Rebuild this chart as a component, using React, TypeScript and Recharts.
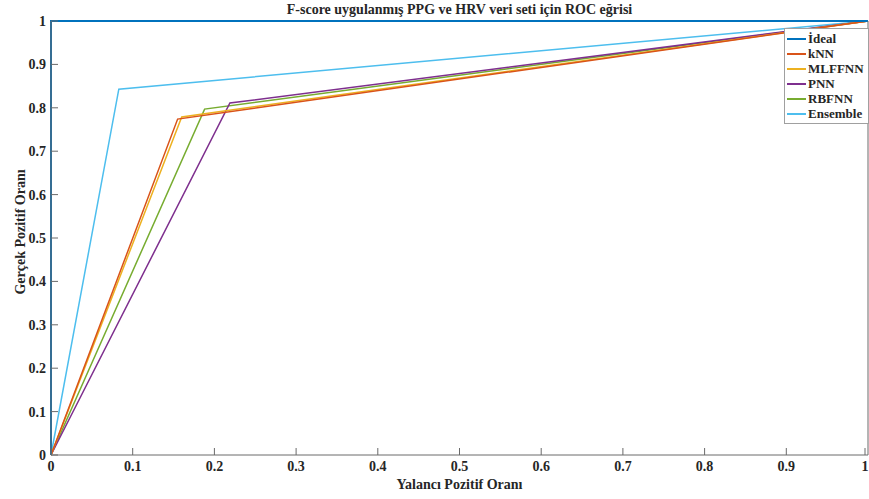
import React from "react";
import { LineChart, Line, XAxis, YAxis } from "recharts";

// ROC curve points (false positive rate, true positive rate)
const idealFpr = [0, 0, 1];
const idealTpr = [0, 1, 1];
const knnFpr = [0, 0.155, 1];
const knnTpr = [0, 0.774, 1];
const mlffnnFpr = [0, 0.16, 1];
const mlffnnTpr = [0, 0.779, 1];
const pnnFpr = [0, 0.219, 1];
const pnnTpr = [0, 0.811, 1];
const rbfnnFpr = [0, 0.188, 1];
const rbfnnTpr = [0, 0.797, 1];
const ensembleFpr = [0, 0.083, 1];
const ensembleTpr = [0, 0.843, 1];

const axisTicks = [0, 0.1, 0.2, 0.3, 0.4, 0.5, 0.6, 0.7, 0.8, 0.9, 1];

const FONT = "'Liberation Serif', 'Times New Roman', serif";
const INK = "#262626";
const AXIS = "#6a6a6a";

const toPoints = (xs: number[], ys: number[]) =>
  xs.map((x, i) => ({ x, y: ys[i] }));

const series = [
  { name: "İdeal", color: "#0072BD", width: 2, data: toPoints(idealFpr, idealTpr) },
  { name: "kNN", color: "#D95319", width: 1.5, data: toPoints(knnFpr, knnTpr) },
  { name: "MLFFNN", color: "#EDB120", width: 1.5, data: toPoints(mlffnnFpr, mlffnnTpr) },
  { name: "PNN", color: "#7E2F8E", width: 1.5, data: toPoints(pnnFpr, pnnTpr) },
  { name: "RBFNN", color: "#77AC30", width: 1.5, data: toPoints(rbfnnFpr, rbfnnTpr) },
  { name: "Ensemble", color: "#4DBEEE", width: 1.5, data: toPoints(ensembleFpr, ensembleTpr) },
];

const fmt = (v: number) => (v === 0 || v === 1 ? String(v) : v.toFixed(1));

const BottomTick = ({ x, y, payload }: any) => (
  <g>
    <line x1={x} x2={x} y1={y} y2={y - 7} stroke={AXIS} />
    <text x={x} y={y + 16} textAnchor="middle" fontFamily={FONT} fontWeight="bold" fontSize={14} fill={INK}>
      {fmt(payload.value)}
    </text>
  </g>
);

const TopTick = ({ x, y }: any) => (
  <line x1={x} x2={x} y1={y} y2={y + 7} stroke={AXIS} />
);

const LeftTick = ({ x, y, payload }: any) => (
  <g>
    <line x1={x} x2={x + 7} y1={y} y2={y} stroke={AXIS} />
    <text x={x - 5} y={y} dy="0.35em" textAnchor="end" fontFamily={FONT} fontWeight="bold" fontSize={14} fill={INK}>
      {fmt(payload.value)}
    </text>
  </g>
);

const RightTick = ({ x, y }: any) => (
  <line x1={x} x2={x - 7} y1={y} y2={y} stroke={AXIS} />
);

const LegendBox = () => (
  <div
    style={{
      position: "absolute",
      left: 784,
      top: 28,
      width: 77,
      border: "1px solid #a0a0a0",
      background: "#fff",
      padding: "2px 4px 2px 2px",
    }}
  >
    {series.map((s) => (
      <div key={s.name} style={{ display: "flex", alignItems: "center", height: 15 }}>
        <span style={{ display: "inline-block", width: 19, height: 2, background: s.color, marginRight: 2 }} />
        <span style={{ fontFamily: FONT, fontWeight: "bold", fontSize: 13, color: INK }}>{s.name}</span>
      </div>
    ))}
  </div>
);

const labelStyle: React.CSSProperties = {
  position: "absolute",
  textAlign: "center",
  fontFamily: FONT,
  fontWeight: "bold",
  fontSize: 14,
  color: INK,
};

export default function App() {
  return (
    <div style={{ position: "absolute", left: 0, top: 0, width: 869, height: 499, background: "#fff" }}>
      <LineChart width={869} height={499} margin={{ top: 21, right: 0, bottom: 0, left: 0 }}>
        <XAxis
          dataKey="x"
          type="number"
          domain={[0, 1]}
          ticks={axisTicks}
          height={44}
          tickSize={0}
          tickMargin={0}
          tick={<BottomTick />}
          axisLine={{ stroke: AXIS }}
          tickLine={false}
          allowDuplicatedCategory={false}
        />
        <XAxis
          xAxisId="top"
          orientation="top"
          dataKey="x"
          type="number"
          domain={[0, 1]}
          ticks={axisTicks}
          height={0}
          tickSize={0}
          tick={<TopTick />}
          axisLine={{ stroke: AXIS }}
          tickLine={false}
        />
        <YAxis
          type="number"
          domain={[0, 1]}
          ticks={axisTicks}
          width={51}
          tickSize={0}
          tickMargin={0}
          tick={<LeftTick />}
          axisLine={{ stroke: AXIS }}
          tickLine={false}
        />
        <YAxis
          yAxisId="right"
          orientation="right"
          type="number"
          domain={[0, 1]}
          ticks={axisTicks}
          width={1}
          tickSize={0}
          tick={<RightTick />}
          axisLine={{ stroke: AXIS }}
          tickLine={false}
        />
        {[...series].reverse().map((s) => (
          <Line
            key={s.name}
            data={s.data}
            dataKey="y"
            name={s.name}
            type="linear"
            stroke={s.color}
            strokeWidth={s.width}
            dot={false}
            activeDot={false}
            isAnimationActive={false}
          />
        ))}
      </LineChart>
      <LegendBox />
      <div style={{ ...labelStyle, top: 2, left: 51, width: 817 }}>
        F-score uygulanmış PPG ve HRV veri seti için ROC eğrisi
      </div>
      <div style={{ ...labelStyle, top: 477, left: 51, width: 817 }}>
        Yalancı Pozitif Oranı
      </div>
      <div
        style={{
          ...labelStyle,
          top: 233,
          left: 21,
          width: 300,
          marginLeft: -150,
          marginTop: -9,
          transform: "rotate(-90deg)",
        }}
      >
        Gerçek Pozitif Oranı
      </div>
    </div>
  );
}
